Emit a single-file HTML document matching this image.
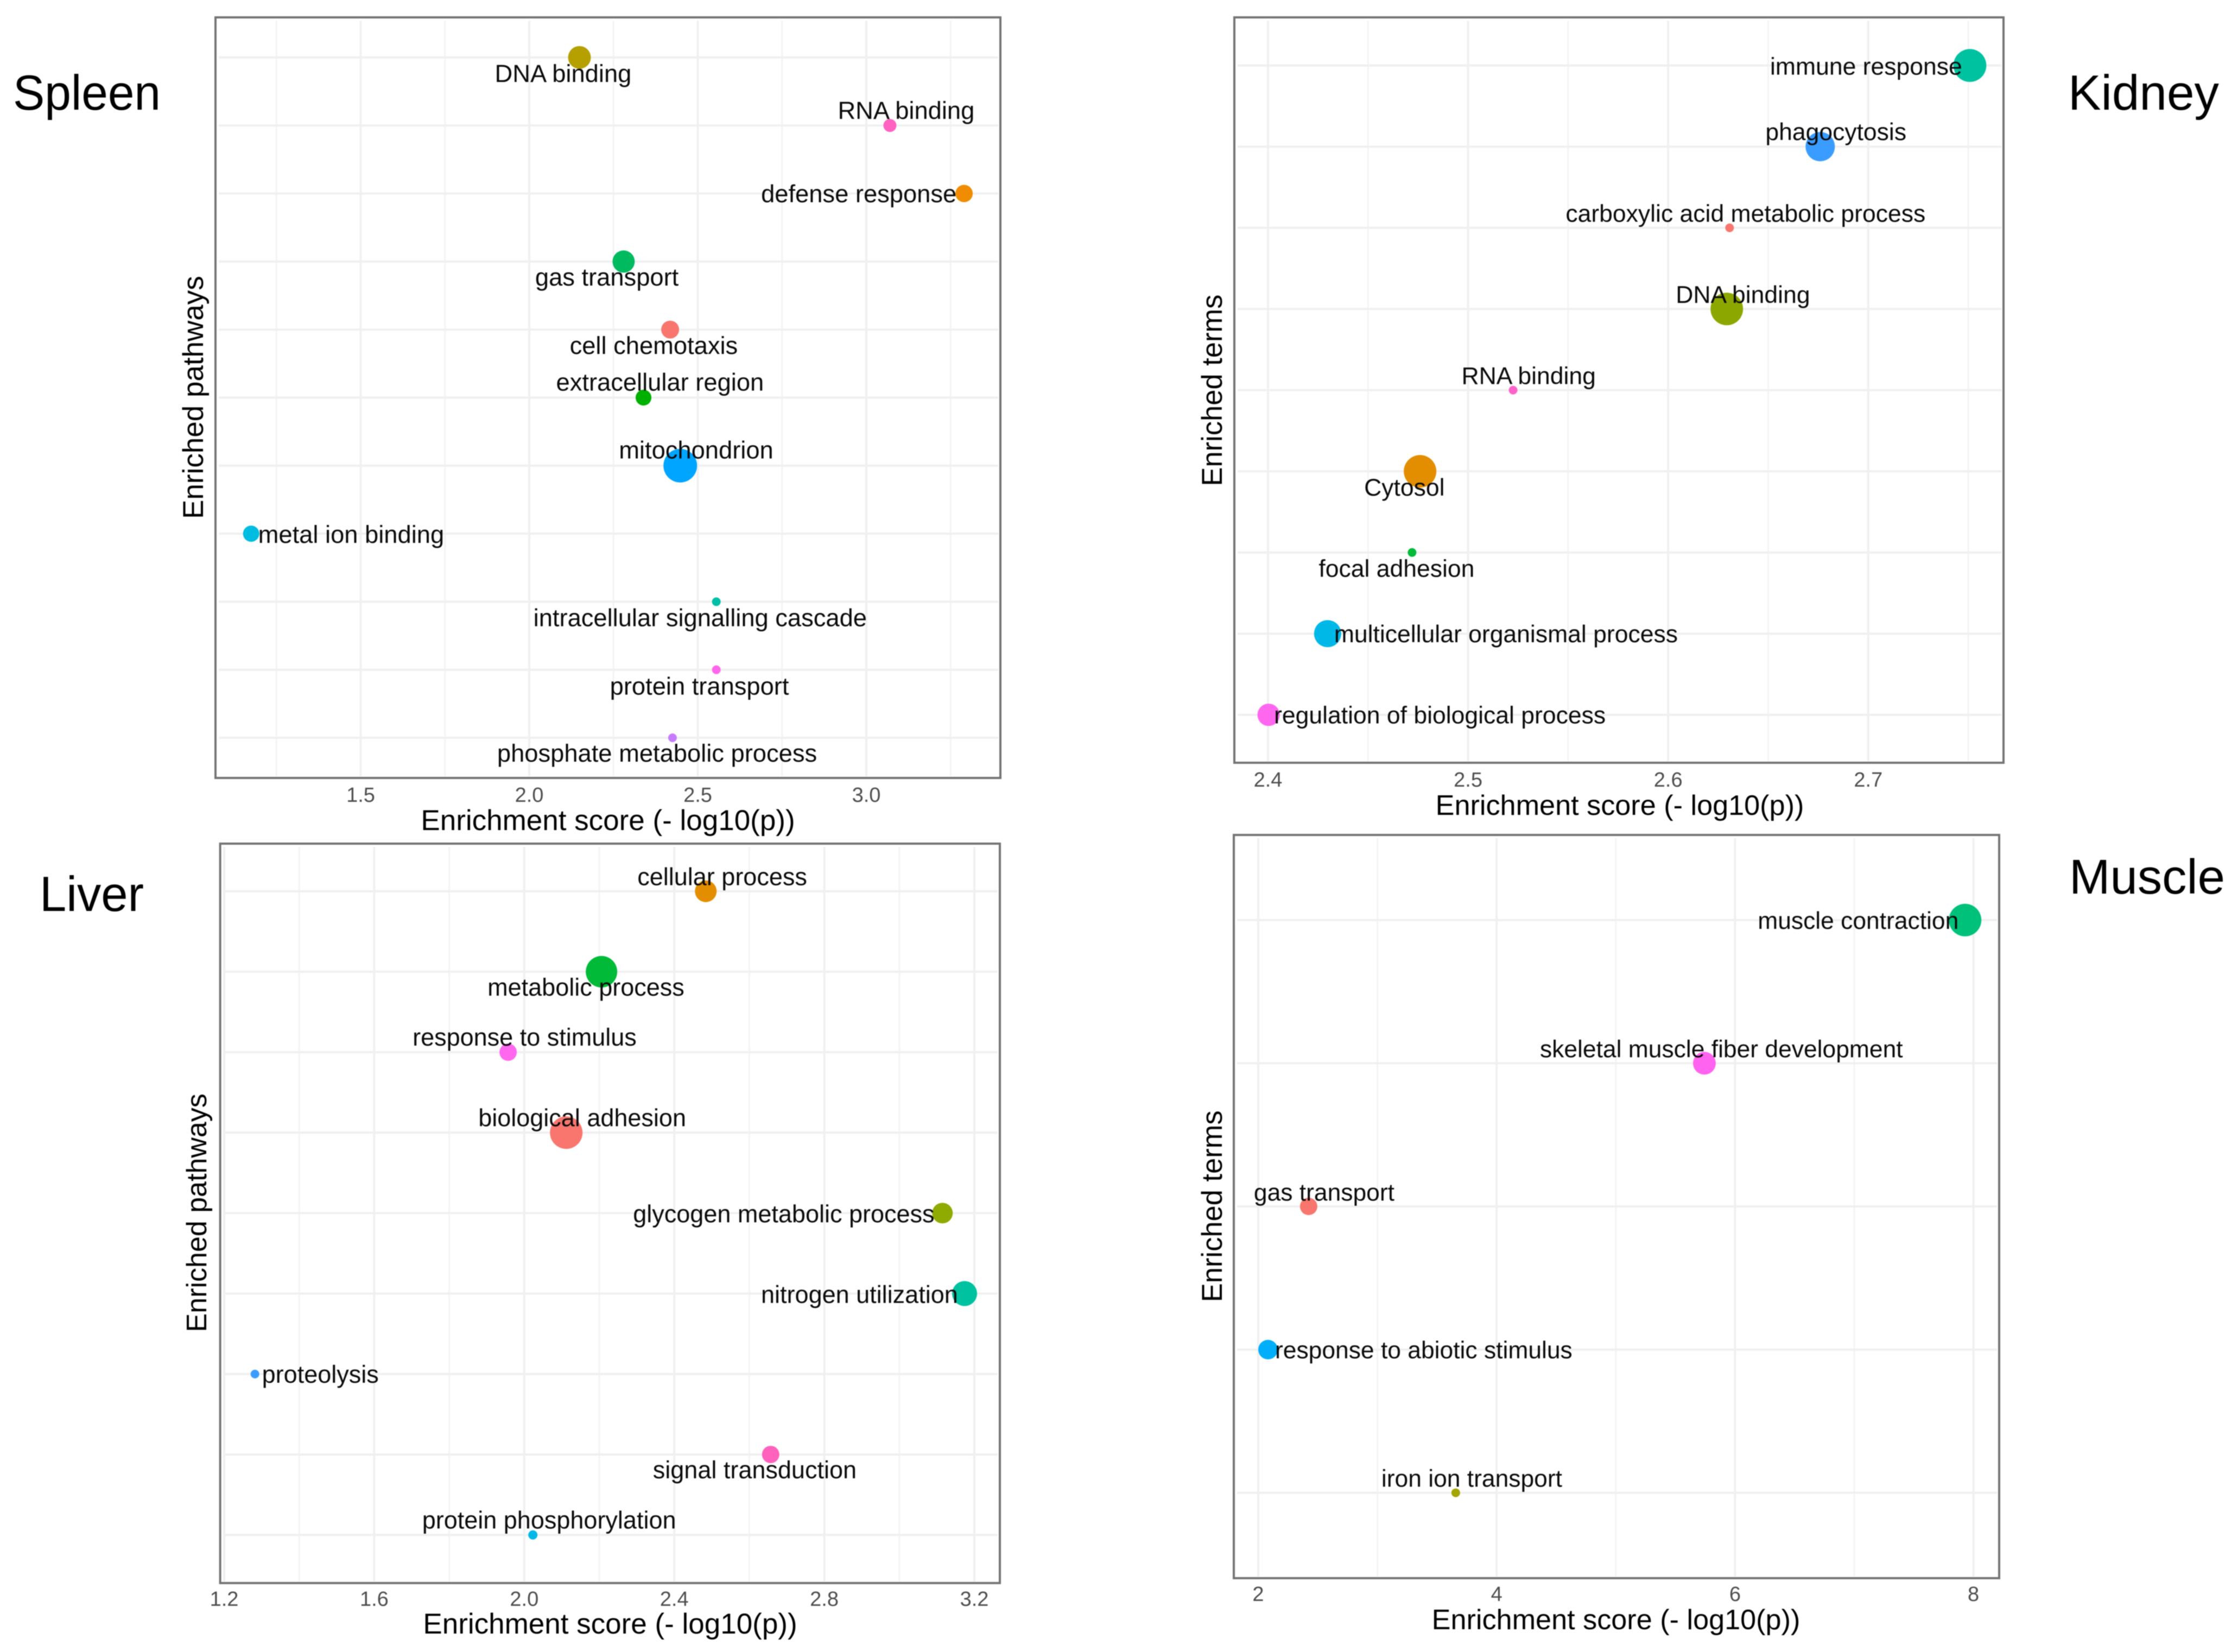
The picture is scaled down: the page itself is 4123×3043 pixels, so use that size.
<!DOCTYPE html>
<html lang="en">
<head>
<meta charset="utf-8">
<title>Enrichment scores by tissue</title>
<style>
html,body{margin:0;padding:0;background:#fff;}
svg{display:block;filter:blur(0.9px);}
text{font-family:"Liberation Sans",Arial,sans-serif;}
</style>
</head>
<body>
<svg id="figure" xmlns="http://www.w3.org/2000/svg" width="4123" height="3043" viewBox="0 0 4123 3043">
  <rect x="0" y="0" width="4123" height="3043" fill="#ffffff"/>
  <text x="24" y="202" font-size="91" fill="#000" textLength="272" lengthAdjust="spacingAndGlyphs">Spleen</text>
  <text x="3810" y="202" font-size="91" fill="#000" textLength="278" lengthAdjust="spacingAndGlyphs">Kidney</text>
  <text x="73" y="1678" font-size="91" fill="#000" textLength="192" lengthAdjust="spacingAndGlyphs">Liver</text>
  <text x="3812" y="1646" font-size="90" fill="#000" textLength="287" lengthAdjust="spacingAndGlyphs">Muscle</text>
</svg>
<script>
/* ---------- Data (estimated) ---------- */
const spleenTerms = ["DNA binding","RNA binding","defense response","gas transport","cell chemotaxis","extracellular region","mitochondrion","metal ion binding","intracellular signalling cascade","protein transport","phosphate metabolic process"];
const spleenScores = [2.149,3.07,3.29,2.28,2.418,2.339,2.448,1.175,2.555,2.555,2.425];
const spleenCounts = [110,36,64,105,68,53,240,56,16,16,16];
const spleenTicks = [1.5,2.0,2.5,3.0];
const spleenMinorTicks = [1.25,1.75,2.25,2.75,3.25];

const kidneyTerms = ["immune response","phagocytosis","carboxylic acid metabolic process","DNA binding","RNA binding","Cytosol","focal adhesion","multicellular organismal process","regulation of biological process"];
const kidneyScores = [2.7508,2.676,2.6307,2.6293,2.5225,2.476,2.472,2.4298,2.4003];
const kidneyCounts = [230,182,16,225,16,225,16,156,106];
const kidneyTicks = [2.4,2.5,2.6,2.7];
const kidneyMinorTicks = [2.45,2.55,2.65,2.75];

const liverTerms = ["cellular process","metabolic process","response to stimulus","biological adhesion","glycogen metabolic process","nitrogen utilization","proteolysis","signal transduction","protein phosphorylation"];
const liverScores = [2.484,2.206,1.957,2.112,3.115,3.174,1.282,2.657,2.023];
const liverCounts = [100,210,64,225,90,132,16,64,18];
const liverTicks = [1.2,1.6,2.0,2.4,2.8,3.2];
const liverMinorTicks = [1.4,1.8,2.2,2.6,3.0];

const muscleTerms = ["muscle contraction","skeletal muscle fiber development","gas transport","response to abiotic stimulus","iron ion transport"];
const muscleScores = [7.93,5.743,2.423,2.082,3.657];
const muscleCounts = [225,110,64,81,16];
const muscleTicks = [2,4,6,8];
const muscleMinorTicks = [3,5,7];

/* ---------- Presentation (not data) ---------- */
const spleenColors = ["#B5A000","#FF62C0","#F08C00","#00BA60","#F8766D","#00B000","#00A5FF","#00BCE0","#00BFA8","#FF66EE","#C77CFF"];
const kidneyColors = ["#00C2A0","#3B9CFF","#F8766D","#8CA800","#FF62C8","#E38E00","#00BA38","#00B8E7","#FF67EE"];
const liverColors = ["#E38E00","#00BA38","#FF67EE","#F8766D","#8FAA00","#00C2A0","#3B9CFF","#FF62BC","#00B8E7"];
const muscleColors = ["#00C17A","#FF63F0","#F8766D","#00AEFA","#A3A500"];

const spleenNudge = [[-156,45],[-96,-12],[-374,16],[-163,44],[-185,45],[-161,-13],[-113,-13],[13,17],[-337,45],[-196,46],[-323,44]];
const kidneyNudge = [[-368,17],[-101,-12],[-302,-11],[-94,-11],[-95,-11],[-103,45],[-172,45],[12,16],[10,16]];
const liverNudge = [[-126,-11],[-210,44],[-176,-12],[-162,-12],[-570,17],[-375,17],[13,16],[-217,44],[-204,-12]];
const muscleNudge = [[-382,16],[-303,-11],[-101,-11],[13,16],[-137,-11]];

const panels = [
  {id:"spleen",terms:spleenTerms,scores:spleenScores,counts:spleenCounts,ticks:spleenTicks,minor:spleenMinorTicks,colors:spleenColors,nudge:spleenNudge,labelSize:45.3,
   left:397,right:1843,top:32,bottom:1433,xRef:1.5,xRefPx:664.5,pxPerUnit:621,rowFirst:105.8,rowLast:1359,decimals:1,
   tickBase:1477,xTitleX:1120,xTitleBase:1529,xTitleSize:53,yTitle:"Enriched pathways",yTitleSize:53,yTitleX:374,yTitleY:732},
  {id:"kidney",terms:kidneyTerms,scores:kidneyScores,counts:kidneyCounts,ticks:kidneyTicks,minor:kidneyMinorTicks,colors:kidneyColors,nudge:kidneyNudge,labelSize:44.5,
   left:2274,right:3691,top:32,bottom:1405,xRef:2.4,xRefPx:2336,pxPerUnit:3686,rowFirst:120.6,rowLast:1316.7,decimals:1,
   tickBase:1449,xTitleX:2984,xTitleBase:1501,xTitleSize:52.2,yTitle:"Enriched terms",yTitleSize:52.5,yTitleX:2251,yTitleY:719},
  {id:"liver",terms:liverTerms,scores:liverScores,counts:liverCounts,ticks:liverTicks,minor:liverMinorTicks,colors:liverColors,nudge:liverNudge,labelSize:45,
   left:405.6,right:1842,top:1554,bottom:2916,xRef:1.2,xRefPx:413,pxPerUnit:691,rowFirst:1641.7,rowLast:2827.4,decimals:1,
   tickBase:2958,xTitleX:1124,xTitleBase:3009,xTitleSize:53,yTitle:"Enriched pathways",yTitleSize:52,yTitleX:380,yTitleY:2234},
  {id:"muscle",terms:muscleTerms,scores:muscleScores,counts:muscleCounts,ticks:muscleTicks,minor:muscleMinorTicks,colors:muscleColors,nudge:muscleNudge,labelSize:44.4,
   left:2273,right:3683,top:1538,bottom:2907,xRef:2,xRefPx:2318,pxPerUnit:219.6,rowFirst:1694.8,rowLast:2749.7,decimals:0,
   tickBase:2949,xTitleX:2977,xTitleBase:3001,xTitleSize:52.2,yTitle:"Enriched terms",yTitleSize:52.5,yTitleX:2251,yTitleY:2222}
];

const SVG_NS = "http://www.w3.org/2000/svg";
const root = document.getElementById("figure");

function make(tag, attrs, parent, content) {
  const el = document.createElementNS(SVG_NS, tag);
  for (const k in attrs) el.setAttribute(k, attrs[k]);
  if (content !== undefined) el.textContent = content;
  parent.appendChild(el);
  return el;
}
function slug(s) { return s.toLowerCase().replace(/[^a-z0-9]+/g, "-"); }

panels.forEach(function (p) {
  const xScale = function (v) { return p.xRefPx + (v - p.xRef) * p.pxPerUnit; };
  const yScale = function (i) {
    return p.rowFirst + i * (p.rowLast - p.rowFirst) / (p.terms.length - 1);
  };
  const radius = function (c) { return 2 * Math.sqrt(c); };

  const g = make("g", {}, root);
  
  

  const bg = make("rect", {x:p.left, y:p.top, width:p.right-p.left, height:p.bottom-p.top, fill:"#ffffff"}, g);
  
  

  p.minor.forEach(function (v) {
    const line = make("line", {x1:xScale(v), x2:xScale(v), y1:p.top+6, y2:p.bottom-3, stroke:"#f4f4f4", "stroke-width":3}, g);
    
    
  });
  p.ticks.forEach(function (v) {
    const line = make("line", {x1:xScale(v), x2:xScale(v), y1:p.top+6, y2:p.bottom-3, stroke:"#f0f0f0", "stroke-width":4}, g);
    
    
  });
  p.terms.forEach(function (t, i) {
    const line = make("line", {x1:p.left+6, x2:p.right-4, y1:yScale(i), y2:yScale(i), stroke:"#f0f0f0", "stroke-width":4}, g);
    
    
  });

  const border = make("rect", {x:p.left, y:p.top, width:p.right-p.left, height:p.bottom-p.top, fill:"none", stroke:"#747474", "stroke-width":4}, g);
  
  

  p.ticks.forEach(function (v) {
    const label = make("text", {x:xScale(v), y:p.tickBase, "text-anchor":"middle", "font-size":38, fill:"#4d4d4d"}, g, v.toFixed(p.decimals));
    
    
  });

  p.terms.forEach(function (t, i) {
    const dot = make("circle", {cx:xScale(p.scores[i]), cy:yScale(i), r:radius(p.counts[i]), fill:p.colors[i]}, g);
    
    
  });
  p.terms.forEach(function (t, i) {
    const label = make("text", {x:xScale(p.scores[i]) + p.nudge[i][0], y:yScale(i) + p.nudge[i][1], "font-size":p.labelSize, fill:"#0a0a0a"}, g, t);
    
    
  });

  const xTitle = make("text", {x:p.xTitleX, y:p.xTitleBase, "text-anchor":"middle", "font-size":p.xTitleSize, fill:"#000"}, g, "Enrichment score (- log10(p))");
  
  

  const yTitle = make("text", {x:p.yTitleX, y:p.yTitleY, "text-anchor":"middle", "font-size":p.yTitleSize, fill:"#000",
    transform:"rotate(-90 " + p.yTitleX + " " + p.yTitleY + ")"}, g, p.yTitle);
  
  
});
</script>
</body>
</html>
